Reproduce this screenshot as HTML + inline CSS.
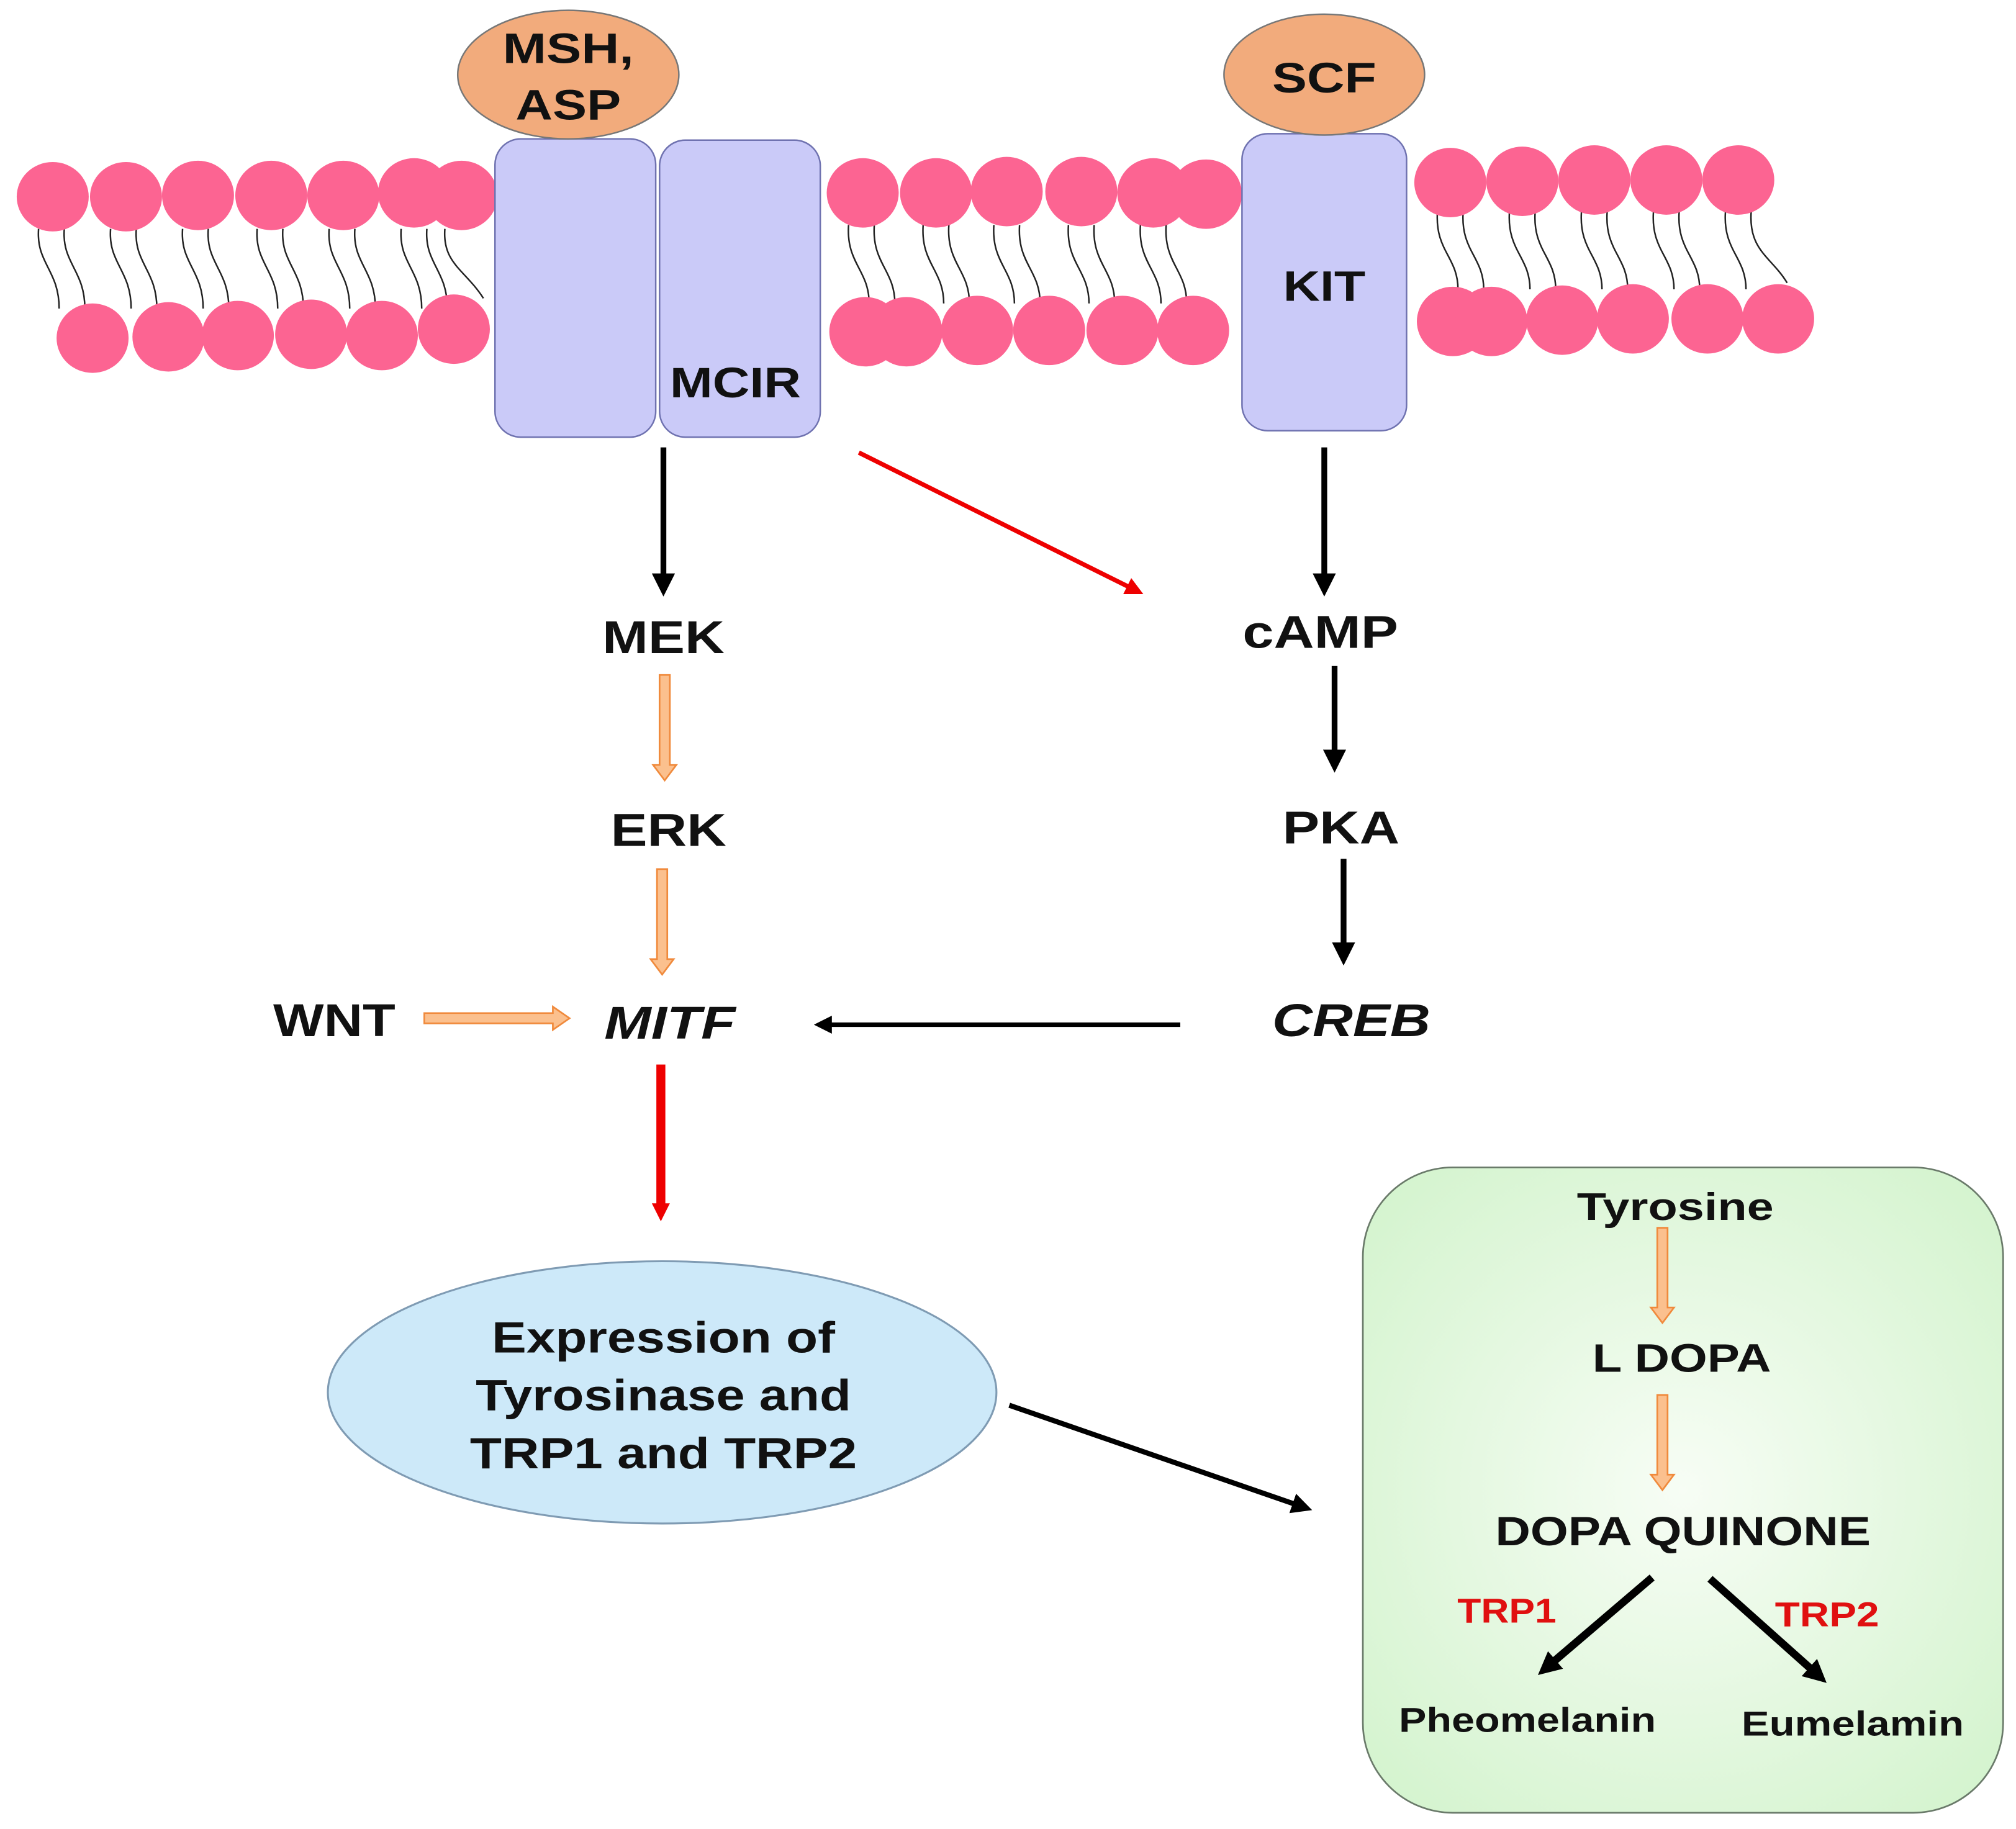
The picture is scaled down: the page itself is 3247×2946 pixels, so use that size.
<!DOCTYPE html>
<html><head><meta charset="utf-8"><style>
html,body{margin:0;padding:0;background:#fff;}
svg{display:block;}
text{font-family:"Liberation Sans",Arial,sans-serif;font-weight:bold;text-anchor:middle;fill:#111;}
</style></head><body>
<svg width="3247" height="2946" viewBox="0 0 1568 1422.6" xmlns="http://www.w3.org/2000/svg">
<defs>
<radialGradient id="g" cx="50%" cy="50%" r="70%">
<stop offset="0" stop-color="#f7fdf5"/><stop offset="1" stop-color="#d2f3cc"/>
</radialGradient>
<marker id="ab" markerWidth="4" markerHeight="4" refX="2" refY="2" orient="auto" markerUnits="strokeWidth"><path d="M0,0 L4,2 L0,4 z" fill="#000"/></marker>
<marker id="ab2" markerWidth="3" markerHeight="3" refX="1.5" refY="1.5" orient="auto" markerUnits="strokeWidth"><path d="M0,0 L3,1.5 L0,3 z" fill="#000"/></marker>
<marker id="ar" markerWidth="4" markerHeight="4" refX="2" refY="2" orient="auto" markerUnits="strokeWidth"><path d="M0,0 L4,2 L0,4 z" fill="#e00"/></marker>
</defs>
<g stroke="#222" stroke-width="1.2" fill="none">
<path d="M30,178 C28,205 46,210 46,240 M50,178 C48,205 66,210 66,240"/>
<path d="M86,178 C84,205 102,210 102,240 M106,178 C104,205 122,210 122,240"/>
<path d="M142,178 C140,205 158,210 158,240 M162,178 C160,205 178,210 178,240"/>
<path d="M200,178 C198,205 216,210 216,240 M220,178 C218,205 236,210 236,240"/>
<path d="M256,178 C254,205 272,210 272,240 M276,178 C274,205 292,210 292,240"/>
<path d="M312,178 C310,205 328,210 328,240 M332,178 C330,205 348,210 348,240 M346,178 C344,205 362,210 376,232"/>
<path d="M660,175 C658,205 676,210 676,236 M680,175 C678,205 696,210 696,236"/>
<path d="M718,175 C716,205 734,210 734,236 M738,175 C736,205 754,210 754,236"/>
<path d="M773,175 C771,205 789,210 789,236 M793,175 C791,205 809,210 809,236"/>
<path d="M831,175 C829,205 847,210 847,236 M851,175 C849,205 867,210 867,236"/>
<path d="M887,175 C885,205 903,210 903,236 M907,175 C905,205 923,210 923,236"/>
<path d="M1118,165 C1116,195 1134,200 1134,225 M1138,165 C1136,195 1154,200 1154,225"/>
<path d="M1174,165 C1172,195 1190,200 1190,225 M1194,165 C1192,195 1210,200 1210,225"/>
<path d="M1230,165 C1228,195 1246,200 1246,225 M1250,165 C1248,195 1266,200 1266,225"/>
<path d="M1286,165 C1284,195 1302,200 1302,225 M1306,165 C1304,195 1322,200 1322,225"/>
<path d="M1342,165 C1340,195 1358,200 1358,225 M1362,165 C1360,195 1378,200 1390,220"/>
</g>
<g fill="#fc6492">
<ellipse cx="41" cy="153" rx="28" ry="27"/><ellipse cx="98" cy="153" rx="28" ry="27"/><ellipse cx="154" cy="152" rx="28" ry="27"/><ellipse cx="211" cy="152" rx="28" ry="27"/><ellipse cx="267" cy="152" rx="28" ry="27"/><ellipse cx="322" cy="150" rx="28" ry="27"/><ellipse cx="359" cy="152" rx="28" ry="27"/>
<ellipse cx="72" cy="263" rx="28" ry="27"/><ellipse cx="131" cy="262" rx="28" ry="27"/><ellipse cx="185" cy="261" rx="28" ry="27"/><ellipse cx="242" cy="260" rx="28" ry="27"/><ellipse cx="297" cy="261" rx="28" ry="27"/><ellipse cx="353" cy="256" rx="28" ry="27"/>
<ellipse cx="671" cy="150" rx="28" ry="27"/><ellipse cx="728" cy="150" rx="28" ry="27"/><ellipse cx="783" cy="149" rx="28" ry="27"/><ellipse cx="841" cy="149" rx="28" ry="27"/><ellipse cx="897" cy="150" rx="28" ry="27"/><ellipse cx="938" cy="151" rx="28" ry="27"/>
<ellipse cx="673" cy="258" rx="28" ry="27"/><ellipse cx="705" cy="258" rx="28" ry="27"/><ellipse cx="760" cy="257" rx="28" ry="27"/><ellipse cx="816" cy="257" rx="28" ry="27"/><ellipse cx="873" cy="257" rx="28" ry="27"/><ellipse cx="928" cy="257" rx="28" ry="27"/>
<ellipse cx="1128" cy="142" rx="28" ry="27"/><ellipse cx="1184" cy="141" rx="28" ry="27"/><ellipse cx="1240" cy="140" rx="28" ry="27"/><ellipse cx="1296" cy="140" rx="28" ry="27"/><ellipse cx="1352" cy="140" rx="28" ry="27"/>
<ellipse cx="1130" cy="250" rx="28" ry="27"/><ellipse cx="1160" cy="250" rx="28" ry="27"/><ellipse cx="1215" cy="249" rx="28" ry="27"/><ellipse cx="1270" cy="248" rx="28" ry="27"/><ellipse cx="1328" cy="248" rx="28" ry="27"/><ellipse cx="1383" cy="248" rx="28" ry="27"/>
</g>
<g fill="#cacaf8" stroke="#6f72b0" stroke-width="1.2">
<rect x="385" y="108" width="125" height="232" rx="20"/>
<rect x="513" y="109" width="125" height="231" rx="20"/>
<rect x="966" y="104" width="128" height="231" rx="20"/>
</g>
<g fill="#f2ab7c" stroke="#777" stroke-width="1.2">
<ellipse cx="442" cy="58" rx="86" ry="50"/>
<ellipse cx="1030" cy="58" rx="78" ry="47"/>
</g>
<text x="442" y="49" font-size="33" textLength="102" lengthAdjust="spacingAndGlyphs">MSH,</text>
<text x="442" y="93" font-size="33" textLength="82" lengthAdjust="spacingAndGlyphs">ASP</text>
<text x="1030" y="72" font-size="33" textLength="81" lengthAdjust="spacingAndGlyphs">SCF</text>
<text x="1030" y="234" font-size="33" textLength="64" lengthAdjust="spacingAndGlyphs">KIT</text>
<text x="572" y="309" font-size="33" textLength="102" lengthAdjust="spacingAndGlyphs">MCIR</text>
<g stroke="#000" stroke-width="4.5" fill="none">
<line x1="516" y1="348" x2="516" y2="455" marker-end="url(#ab)"/>
<line x1="1030" y1="348" x2="1030" y2="455" marker-end="url(#ab)"/>
<line x1="1038" y1="518" x2="1038" y2="592" marker-end="url(#ab)"/>
<line x1="1045" y1="668" x2="1045" y2="742" marker-end="url(#ab)"/>
<line x1="918" y1="797" x2="640" y2="797" stroke-width="3.5" marker-end="url(#ab)"/>
<line x1="785" y1="1093" x2="1013" y2="1172" stroke-width="4" marker-end="url(#ab)"/>
</g>
<line x1="668" y1="352" x2="883" y2="459" stroke="#e00" stroke-width="3.5" marker-end="url(#ar)"/>
<line x1="514" y1="828" x2="514" y2="938" stroke="#e00" stroke-width="7"/>
<path d="M507,936 h14 l-7,14 z" fill="#e00"/>
<g fill="#fbc08e" stroke="#f08a3c" stroke-width="1.3">
<path d="M513,525 h8 v70 h5 l-9,12 l-9,-12 h5 z"/>
<path d="M511,676 h8 v70 h5 l-9,12 l-9,-12 h5 z"/>
<path d="M330,788 h100 v-5 l13,9 l-13,9 v-5 h-100 z"/>
</g>
<text x="516" y="508" font-size="36" textLength="95" lengthAdjust="spacingAndGlyphs">MEK</text>
<text x="520" y="658" font-size="36" textLength="90" lengthAdjust="spacingAndGlyphs">ERK</text>
<text x="1027" y="504" font-size="36" textLength="121" lengthAdjust="spacingAndGlyphs">cAMP</text>
<text x="1043" y="656" font-size="36" textLength="91" lengthAdjust="spacingAndGlyphs">PKA</text>
<text x="260" y="806" font-size="36" textLength="95" lengthAdjust="spacingAndGlyphs">WNT</text>
<text x="521" y="808" font-size="36" font-style="italic" textLength="102" lengthAdjust="spacingAndGlyphs">MITF</text>
<text x="1051" y="806" font-size="36" font-style="italic" textLength="123" lengthAdjust="spacingAndGlyphs">CREB</text>
<ellipse cx="515" cy="1083" rx="260" ry="102" fill="#cde9f9" stroke="#7f9bb3" stroke-width="1.5"/>
<text x="516" y="1052" font-size="34" textLength="267" lengthAdjust="spacingAndGlyphs">Expression of</text>
<text x="516" y="1097" font-size="34" textLength="292" lengthAdjust="spacingAndGlyphs">Tyrosinase and</text>
<text x="516" y="1142" font-size="34" textLength="301" lengthAdjust="spacingAndGlyphs">TRP1 and TRP2</text>
<rect x="1060" y="908" width="498" height="502" rx="70" fill="url(#g)" stroke="#6a7a6a" stroke-width="1.3"/>
<g fill="#fbc08e" stroke="#f08a3c" stroke-width="1.3">
<path d="M1289,955 h8 v62 h5 l-9,12 l-9,-12 h5 z"/>
<path d="M1289,1085 h8 v62 h5 l-9,12 l-9,-12 h5 z"/>
</g>
<g stroke="#000" stroke-width="6" fill="none">
<line x1="1285" y1="1227" x2="1203" y2="1297" marker-end="url(#ab2)"/>
<line x1="1330" y1="1228" x2="1414" y2="1303" marker-end="url(#ab2)"/>
</g>
<text x="1303" y="949" font-size="30" textLength="153" lengthAdjust="spacingAndGlyphs">Tyrosine</text>
<text x="1308" y="1067" font-size="31" textLength="139" lengthAdjust="spacingAndGlyphs">L DOPA</text>
<text x="1309" y="1202" font-size="32" textLength="292" lengthAdjust="spacingAndGlyphs">DOPA QUINONE</text>
<text x="1172" y="1262" font-size="27" style="fill:#e01010" textLength="77" lengthAdjust="spacingAndGlyphs">TRP1</text>
<text x="1421" y="1265" font-size="27" style="fill:#e01010" textLength="81" lengthAdjust="spacingAndGlyphs">TRP2</text>
<text x="1188" y="1347" font-size="27" textLength="200" lengthAdjust="spacingAndGlyphs">Pheomelanin</text>
<text x="1441" y="1350" font-size="27" textLength="173" lengthAdjust="spacingAndGlyphs">Eumelamin</text>
</svg>
</body></html>
